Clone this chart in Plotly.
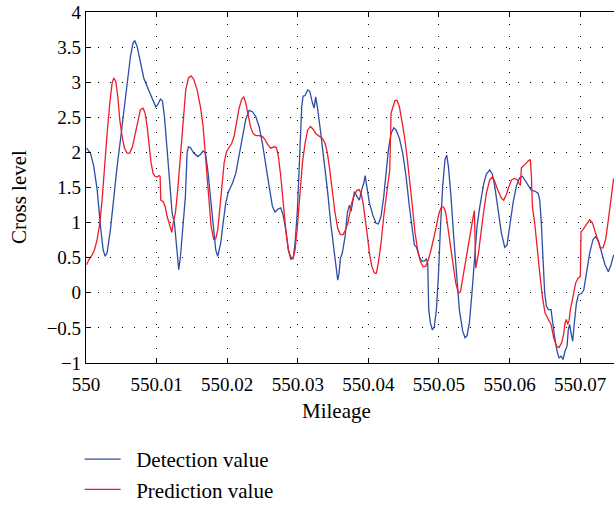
import plotly.graph_objects as go

# Detection value (measured cross level) along the mileage
mileage_detection = [
    550.00007, 550.00063, 550.00110, 550.00158, 550.00205, 550.00243, 550.00271, 550.00299,
    550.00346, 550.00394, 550.00441, 550.00488, 550.00535, 550.00582, 550.00630, 550.00667,
    550.00691, 550.00724, 550.00771, 550.00818, 550.00866, 550.00913, 550.00960, 550.00988,
    550.01017, 550.01054, 550.01083, 550.01111, 550.01149, 550.01187, 550.01220, 550.01253,
    550.01281, 550.01314, 550.01338, 550.01375, 550.01408, 550.01432, 550.01451, 550.01479,
    550.01526, 550.01583, 550.01621, 550.01659, 550.01692, 550.01725, 550.01762, 550.01800,
    550.01838, 550.01866,
    550.01909, 550.01942, 550.01980, 550.02018, 550.02075, 550.02122, 550.02169, 550.02216,
    550.02263, 550.02311, 550.02358, 550.02405, 550.02452, 550.02499, 550.02547, 550.02594,
    550.02641, 550.02679, 550.02716, 550.02759, 550.02792, 550.02830, 550.02867, 550.02901,
    550.02934, 550.02962, 550.02995, 550.03028, 550.03056, 550.03075, 550.03103, 550.03141,
    550.03170, 550.03207, 550.03231, 550.03254, 550.03283, 550.03325, 550.03372, 550.03420,
    550.03467, 550.03514, 550.03547, 550.03566, 550.03585, 550.03604, 550.03632, 550.03670,
    550.03703,
    550.03732, 550.03755, 550.03779, 550.03803, 550.03840, 550.03873, 550.03906, 550.03935,
    550.03954, 550.03982, 550.04015, 550.04062, 550.04109, 550.04142, 550.04180, 550.04218,
    550.04251, 550.04284, 550.04322, 550.04360, 550.04393, 550.04440, 550.04487, 550.04534,
    550.04581, 550.04629, 550.04652, 550.04681, 550.04718, 550.04756, 550.04794, 550.04822,
    550.04841, 550.04855, 550.04879, 550.04907, 550.04935, 550.04964, 550.04992, 550.05020,
    550.05053, 550.05086, 550.05110, 550.05134, 550.05171, 550.05209, 550.05247, 550.05289,
    550.05337, 550.05370, 550.05398, 550.05431, 550.05464, 550.05502, 550.05540,
    550.05578, 550.05606, 550.05635, 550.05672, 550.05720, 550.05757, 550.05790, 550.05838,
    550.05885, 550.05932, 550.05965, 550.06003, 550.06050, 550.06097, 550.06144, 550.06182,
    550.06215, 550.06262, 550.06310, 550.06357, 550.06404, 550.06428, 550.06451, 550.06475,
    550.06498, 550.06522, 550.06550, 550.06588, 550.06607, 550.06640, 550.06673, 550.06701,
    550.06730, 550.06758, 550.06786, 550.06815, 550.06833, 550.06852, 550.06871, 550.06895,
    550.06918, 550.06947, 550.06975, 550.07018, 550.07051, 550.07088, 550.07136, 550.07183,
    550.07221, 550.07258, 550.07306, 550.07353, 550.07400, 550.07438, 550.07475,
]
level_detection = [
    2.06, 1.99, 1.80, 1.47, 0.95, 0.61, 0.52, 0.57,
    0.90, 1.37, 1.80, 2.18, 2.56, 2.99, 3.37, 3.56,
    3.59, 3.51, 3.27, 3.06, 2.94, 2.82, 2.70, 2.65,
    2.68, 2.76, 2.73, 2.51, 2.04, 1.52, 1.14, 0.99,
    0.71, 0.33, 0.52, 0.99, 1.37, 1.99, 2.08, 2.07,
    1.99, 1.94, 1.97, 2.02, 1.99, 1.75, 1.37, 0.95,
    0.61, 0.52,
    0.71, 0.99, 1.28, 1.44, 1.56, 1.70, 1.94, 2.23,
    2.47, 2.60, 2.58, 2.51, 2.37, 2.13, 1.85, 1.52,
    1.23, 1.15, 1.19, 1.21, 1.11, 0.90, 0.61, 0.48,
    0.49, 0.71, 1.18, 1.89, 2.65, 2.80, 2.81, 2.89,
    2.87, 2.71, 2.63, 2.79, 2.61, 2.28, 1.90, 1.47,
    0.99, 0.57, 0.28, 0.18, 0.28, 0.49, 0.57, 0.80,
    1.14,
    1.25, 1.16, 1.32, 1.44, 1.37, 1.32, 1.47, 1.56,
    1.67, 1.47, 1.28, 1.11, 0.99, 0.98, 1.09, 1.37,
    1.70, 2.04, 2.27, 2.35, 2.32, 2.20, 1.99, 1.66,
    1.23, 0.80, 0.68, 0.65, 0.52, 0.45, 0.45, 0.48,
    0.42, -0.24, -0.43, -0.53, -0.48, -0.24, 0.23, 0.90,
    1.52, 1.90, 1.96, 1.80, 1.37, 0.80, 0.23, -0.24,
    -0.55, -0.64, -0.61, -0.43, -0.05, 0.52, 0.95,
    1.22, 1.37, 1.56, 1.69, 1.75, 1.69, 1.52, 1.18,
    0.85, 0.65, 0.68, 0.95, 1.28, 1.52, 1.64, 1.66,
    1.61, 1.54, 1.46, 1.45, 1.42, 1.32, 0.99, 0.47,
    0.00, -0.19, -0.24, -0.24, -0.40, -0.64, -0.83, -0.93,
    -0.90, -0.95, -0.83, -0.76, -0.52, -0.45, -0.57, -0.69,
    -0.43, -0.15, -0.03, -0.01, 0.04, 0.28, 0.57, 0.76,
    0.80, 0.74, 0.57, 0.40, 0.30, 0.40, 0.54,
]

# Prediction value (model output) along the mileage
mileage_prediction = [
    550.00007, 550.00040, 550.00087, 550.00120, 550.00158, 550.00195, 550.00228, 550.00261,
    550.00299, 550.00337, 550.00370, 550.00394, 550.00422, 550.00450, 550.00479, 550.00512,
    550.00545, 550.00582, 550.00620, 550.00658, 550.00696, 550.00733, 550.00771, 550.00809,
    550.00837, 550.00866, 550.00894, 550.00922, 550.00951, 550.00979, 550.01007, 550.01036,
    550.01050, 550.01059, 550.01092, 550.01121, 550.01149, 550.01187, 550.01215, 550.01234,
    550.01267, 550.01300, 550.01338, 550.01375, 550.01413, 550.01451, 550.01489, 550.01526,
    550.01574, 550.01621, 550.01659, 550.01696, 550.01734, 550.01772, 550.01810, 550.01838,
    550.01867, 550.01895, 550.01923, 550.01957, 550.01990, 550.02027, 550.02065, 550.02098,
    550.02131, 550.02169, 550.02207, 550.02235, 550.02263, 550.02292, 550.02329, 550.02367,
    550.02405, 550.02452, 550.02499, 550.02537, 550.02575, 550.02617, 550.02665, 550.02698,
    550.02726, 550.02759, 550.02792, 550.02830, 550.02867, 550.02901, 550.02934, 550.02962,
    550.02995, 550.03028, 550.03066, 550.03103, 550.03141, 550.03179, 550.03217, 550.03254,
    550.03302, 550.03349, 550.03387, 550.03420, 550.03453, 550.03490, 550.03528, 550.03566,
    550.03604, 550.03642, 550.03679, 550.03708,
    550.03737, 550.03765, 550.03803, 550.03840, 550.03869, 550.03897, 550.03925, 550.03954,
    550.03982, 550.04015, 550.04048, 550.04086, 550.04114, 550.04142, 550.04180, 550.04218,
    550.04256, 550.04284, 550.04303, 550.04322, 550.04345, 550.04378, 550.04407, 550.04440,
    550.04473, 550.04511, 550.04548, 550.04586, 550.04624, 550.04662, 550.04699, 550.04737,
    550.04775, 550.04813, 550.04850, 550.04888, 550.04926, 550.04964, 550.05002, 550.05039,
    550.05068, 550.05096, 550.05124, 550.05162, 550.05200, 550.05238, 550.05275, 550.05304,
    550.05341, 550.05379, 550.05417, 550.05455, 550.05483, 550.05502, 550.05521, 550.05558,
    550.05587,
    550.05625, 550.05672, 550.05720, 550.05757, 550.05790, 550.05838, 550.05885, 550.05918,
    550.05956, 550.05993, 550.06031, 550.06069, 550.06107, 550.06135, 550.06154, 550.06168,
    550.06192, 550.06229, 550.06267, 550.06295, 550.06310, 550.06324, 550.06357, 550.06390,
    550.06428, 550.06465, 550.06503, 550.06550, 550.06588, 550.06626, 550.06664, 550.06701,
    550.06739, 550.06767, 550.06786, 550.06805, 550.06824, 550.06843, 550.06862, 550.06900,
    550.06937, 550.06975, 550.07003, 550.07013, 550.07041, 550.07088, 550.07136, 550.07173,
    550.07211, 550.07254, 550.07286, 550.07324, 550.07362, 550.07400, 550.07438, 550.07475,
]
level_prediction = [
    0.40, 0.47, 0.54, 0.61, 0.76, 0.99, 1.32, 1.80,
    2.27, 2.70, 2.99, 3.06, 3.01, 2.80, 2.46, 2.23,
    2.06, 1.99, 1.99, 2.08, 2.25, 2.46, 2.61, 2.63,
    2.56, 2.37, 2.08, 1.85, 1.70, 1.66, 1.65, 1.67,
    1.66, 1.32, 1.30, 1.23, 1.09, 0.95, 0.86, 0.99,
    1.14, 1.47, 1.94, 2.51, 2.89, 3.06, 3.09, 3.04,
    2.89, 2.65, 2.37, 1.90, 1.37, 0.95, 0.76, 0.77,
    0.90, 1.23, 1.56, 1.85, 2.01, 2.08, 2.13, 2.23,
    2.42, 2.63, 2.76, 2.79, 2.71, 2.56, 2.37, 2.27,
    2.24, 2.24, 2.23, 2.18, 2.11, 2.06, 2.08, 2.07,
    1.94, 1.66, 1.28, 0.90, 0.61, 0.51, 0.49, 0.61,
    0.95, 1.37, 1.85, 2.13, 2.32, 2.37, 2.33, 2.27,
    2.24, 2.20, 2.13, 1.99, 1.75, 1.42, 1.14, 0.92,
    0.83, 0.83, 0.90, 0.99,
    1.14, 1.28, 1.40, 1.46, 1.47, 1.42, 1.28, 1.09,
    0.85, 0.57, 0.38, 0.28, 0.28, 0.43, 0.71, 1.09,
    1.37, 1.61, 1.75, 2.56, 2.65, 2.74, 2.74, 2.65,
    2.46, 2.23, 1.94, 1.61, 1.23, 0.85, 0.61, 0.45,
    0.37, 0.38, 0.47, 0.61, 0.76, 0.95, 1.14, 1.23,
    1.22, 1.14, 0.95, 0.66, 0.38, 0.14, 0.00, 0.01,
    0.23, 0.47, 0.71, 0.90, 1.07, 1.17, 0.35, 0.55,
    0.80,
    1.09, 1.42, 1.61, 1.65, 1.59, 1.45, 1.35, 1.32,
    1.40, 1.52, 1.61, 1.63, 1.61, 1.56, 1.53, 1.78,
    1.80, 1.84, 1.88, 1.90, 1.66, 1.23, 0.99, 0.61,
    0.28, -0.05, -0.29, -0.38, -0.45, -0.64, -0.76, -0.78,
    -0.71, -0.59, -0.43, -0.38, -0.45, -0.40, -0.24, -0.05,
    0.14, 0.21, 0.23, 0.87, 0.90, 0.97, 1.04, 1.00,
    0.87, 0.73, 0.64, 0.64, 0.76, 1.04, 1.37, 1.63,
]

x_tick_values = [550, 550.01, 550.02, 550.03, 550.04, 550.05, 550.06, 550.07]
x_tick_labels = ["550", "550.01", "550.02", "550.03", "550.04", "550.05", "550.06", "550.07"]
y_tick_values = [-1, -0.5, 0, 0.5, 1, 1.5, 2, 2.5, 3, 3.5, 4]
y_tick_labels = ["\u22121", "\u22120.5", "0", "0.5", "1", "1.5", "2", "2.5", "3", "3.5", "4"]

SERIF = "Liberation Serif"
BLUE = "#2c4ea6"
RED = "#ee1d27"
GRID_DASH = "1px,11px"
LEGEND_PAD = "\u2002"  # en space between the legend swatch and its label

fig = go.Figure()
fig.add_trace(go.Scatter(
    x=mileage_detection, y=level_detection, mode="lines",
    name=LEGEND_PAD + "Detection value", line=dict(color=BLUE, width=1.3),
))
fig.add_trace(go.Scatter(
    x=mileage_prediction, y=level_prediction, mode="lines",
    name=LEGEND_PAD + "Prediction value", line=dict(color=RED, width=1.3),
))

axis_common = dict(
    ticks="inside", ticklen=5, tickwidth=1, tickcolor="black",
    showline=True, linecolor="black", linewidth=1.2,
    showgrid=True, gridcolor="black", gridwidth=1, griddash=GRID_DASH,
    zeroline=False, tickfont=dict(family=SERIF, size=19, color="black"),
)

fig.update_layout(
    width=614, height=506,
    margin=dict(l=86, r=0, t=12, b=143, pad=0, autoexpand=False),
    paper_bgcolor="white", plot_bgcolor="white",
    font=dict(family=SERIF, size=19, color="black"),
    xaxis=dict(range=[550, 550.0748], tickvals=x_tick_values, ticktext=x_tick_labels,
               mirror="ticks", ticklabelstandoff=4, **axis_common),
    yaxis=dict(range=[-1, 4], tickvals=y_tick_values, ticktext=y_tick_labels,
               mirror=False, **axis_common),
    # tick marks along the right edge of the frame
    yaxis2=dict(range=[-1, 4], tickvals=y_tick_values, overlaying="y", side="right",
                anchor="x", ticks="inside", ticklen=5, tickwidth=1, tickcolor="black",
                showticklabels=False, showgrid=False, zeroline=False, showline=False),
    showlegend=True,
    legend=dict(
        x=-0.012, xanchor="left", y=-0.2165, yanchor="top",
        font=dict(family=SERIF, size=21, color="black"),
        bgcolor="rgba(0,0,0,0)", borderwidth=0, tracegroupgap=0, itemwidth=36,
    ),
    annotations=[
        dict(text="Mileage", xref="paper", yref="paper", x=0.4735, y=-0.137,
             xanchor="center", yanchor="middle", showarrow=False,
             font=dict(family=SERIF, size=21, color="black")),
        dict(text="Cross level", xref="paper", yref="paper", x=-0.1269, y=0.473,
             xanchor="center", yanchor="middle", textangle=-90, showarrow=False,
             font=dict(family=SERIF, size=21, color="black")),
    ],
)

fig.write_html("out.html", config={"displayModeBar": False})
